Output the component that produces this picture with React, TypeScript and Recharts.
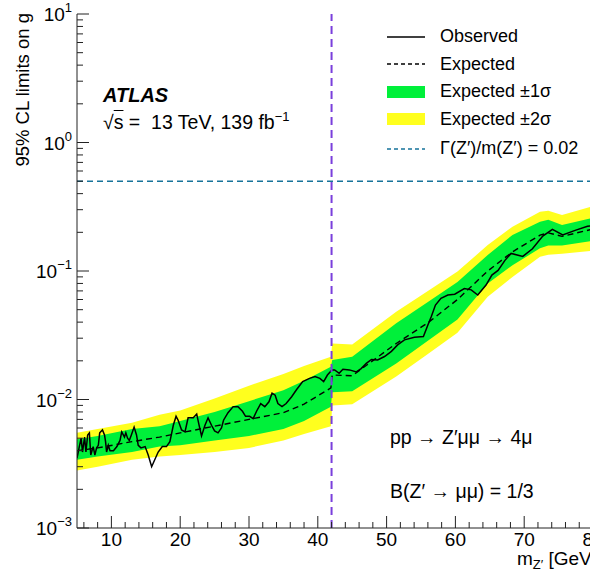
import React from "react";
import { Area, ComposedChart, Line, ReferenceLine, XAxis, YAxis } from "recharts";

const FONT = '"Liberation Sans", Arial, Helvetica, sans-serif';

// Expected limit and its bands, per mass point (GeV)
const bandMass = [5, 8, 13, 17, 20, 25, 30, 35, 38, 41.9, 42.1, 45, 51.4, 56, 60.3, 64.7, 68.3, 72.3, 73.5, 75.5, 80];
const expected = [0.004, 0.0042, 0.0047, 0.0051, 0.0055, 0.0062, 0.007, 0.0079, 0.0092, 0.0123, 0.0155, 0.0153, 0.0273, 0.0395, 0.06, 0.1, 0.141, 0.19, 0.198, 0.186, 0.212];
const minus2 = [0.0028, 0.003, 0.0034, 0.0036, 0.0037, 0.0039, 0.0042, 0.0048, 0.0054, 0.0062, 0.009, 0.0092, 0.0151, 0.0226, 0.033, 0.063, 0.09, 0.129, 0.134, 0.136, 0.144];
const minus1 = [0.0034, 0.0036, 0.0039, 0.0043, 0.0044, 0.0048, 0.0052, 0.0059, 0.0068, 0.0088, 0.0114, 0.0116, 0.0191, 0.0287, 0.042, 0.08, 0.111, 0.15, 0.158, 0.158, 0.172];
const plus1 = [0.0049, 0.0052, 0.0059, 0.0062, 0.0068, 0.008, 0.0097, 0.0118, 0.014, 0.018, 0.0203, 0.0215, 0.0392, 0.0574, 0.082, 0.133, 0.191, 0.242, 0.25, 0.228, 0.26];
const plus2 = [0.0055, 0.0059, 0.0066, 0.0076, 0.0082, 0.0102, 0.0128, 0.0158, 0.0182, 0.0215, 0.0273, 0.0268, 0.0482, 0.07, 0.099, 0.159, 0.221, 0.289, 0.295, 0.273, 0.32];

// Observed limit
const obsMass = [
  5.0, 5.3, 5.6, 5.8, 6.1, 6.3, 6.55, 6.8, 7.0, 7.35, 7.6, 7.85, 8.1, 8.3, 8.7, 9.0, 9.15, 9.3, 9.55, 9.8,
  10.3, 10.8, 11.25, 11.5, 11.9, 12.1, 12.35, 12.6, 12.9, 13.3, 13.65, 13.9, 14.3, 14.9, 15.35, 15.85, 16.3, 16.8, 17.4, 18.0,
  18.5, 19.0, 19.4, 19.7, 20.2, 20.7, 21.15, 21.9, 22.4, 22.75, 23.1, 23.6, 24.05, 24.55, 25.0, 25.5, 26.0, 26.3, 26.95, 27.7,
  28.4, 29.05, 29.5, 30.1, 30.6, 31.1, 31.7, 32.3, 32.9, 33.35, 33.8, 34.2, 34.8, 35.4, 36.2, 36.9, 37.8, 38.8, 39.6, 40.3,
  40.85, 41.4, 42.05, 42.45, 43.1, 43.65, 44.6, 45.6, 46.3, 47.05, 47.8, 48.7, 49.7, 50.7, 51.6, 52.6, 54.05, 55.35, 56.0, 56.5,
  57.1, 57.9, 58.9, 59.9, 61.3, 62.3, 63.25, 64.45, 65.3, 66.2, 67.2, 68.1, 69.8, 71.2, 72.7, 74.1, 75.6, 77.4, 79.2, 80,
];
const observed = [
  0.0035, 0.0042, 0.005, 0.0039, 0.0051, 0.0039, 0.0053, 0.0055, 0.0037, 0.0043, 0.0037, 0.0042, 0.0044, 0.0055, 0.0058, 0.0053, 0.0047, 0.0039, 0.0044, 0.004,
  0.004, 0.0043, 0.0048, 0.0056, 0.0051, 0.0055, 0.005, 0.0048, 0.0053, 0.0061, 0.0053, 0.0044, 0.0042, 0.0043, 0.0037, 0.003, 0.0034, 0.0039, 0.0043, 0.0043,
  0.0047, 0.0063, 0.0074, 0.0069, 0.0058, 0.0056, 0.0072, 0.0072, 0.0077, 0.0063, 0.0052, 0.0063, 0.0072, 0.0063, 0.0057, 0.0055, 0.006, 0.0069, 0.0079, 0.0088,
  0.0088, 0.0081, 0.0074, 0.0074, 0.0071, 0.0081, 0.0093, 0.0088, 0.0096, 0.0112, 0.0108, 0.0093, 0.0088, 0.0093, 0.0105, 0.0119, 0.0138, 0.0146, 0.0151, 0.0146,
  0.0138, 0.0155, 0.017, 0.017, 0.016, 0.0172, 0.017, 0.0164, 0.0174, 0.0191, 0.0205, 0.0203, 0.0216, 0.0237, 0.0266, 0.0291, 0.0305, 0.0309, 0.038, 0.0442,
  0.0543, 0.0613, 0.065, 0.066, 0.073, 0.0713, 0.065, 0.0777, 0.093, 0.101, 0.121, 0.137, 0.13, 0.149, 0.187, 0.211, 0.191, 0.207, 0.223, 0.225,
];

const widthLimit = 0.5; // Gamma(Z')/m(Z') = 0.02
const massCut = 42;

const xMajor = [10, 20, 30, 40, 50, 60, 70, 80];
const xTicks = [6, 8, 10, 12, 14, 16, 18, 20, 22, 24, 26, 28, 30, 32, 34, 36, 38, 40, 42, 44, 46, 48, 50, 52, 54, 56, 58, 60, 62, 64, 66, 68, 70, 72, 74, 76, 78, 80];
const yMajor = [0.001, 0.01, 0.1, 1, 10];
const yTicks = [
  0.001, 0.002, 0.003, 0.004, 0.005, 0.006, 0.007, 0.008, 0.009,
  0.01, 0.02, 0.03, 0.04, 0.05, 0.06, 0.07, 0.08, 0.09,
  0.1, 0.2, 0.3, 0.4, 0.5, 0.6, 0.7, 0.8, 0.9,
  1, 2, 3, 4, 5, 6, 7, 8, 9, 10,
];

const GREEN = "#00f03a";
const YELLOW = "#ffff1e";
const TEAL = "#16739a";
const PURPLE = "#7a3fdc";
const AXIS = "#222";

const bandData = bandMass.map((m, i) => ({
  m,
  exp: expected[i],
  s1: [minus1[i], plus1[i]],
  s2: [minus2[i], plus2[i]],
}));
const obsData = obsMass.map((m, i) => ({ m, obs: observed[i] }));

const isMajorX = (v: number) => xMajor.includes(v);
const isMajorY = (v: number) => yMajor.some((t) => Math.abs(t - v) < 1e-9);

function BottomTick({ x, y, payload }: any) {
  const major = isMajorX(payload.value);
  return (
    <g>
      <line x1={x} x2={x} y1={y} y2={y - (major ? 12 : 6)} stroke={AXIS} />
      {major && (
        <text x={x} y={y + 18} textAnchor="middle" fontSize={19} fontFamily={FONT} fill="#000">
          {payload.value}
        </text>
      )}
    </g>
  );
}

function TopTick({ x, y, payload }: any) {
  const major = isMajorX(payload.value);
  return <line x1={x} x2={x} y1={y} y2={y + (major ? 12 : 6)} stroke={AXIS} />;
}

function LeftTick({ x, y, payload }: any) {
  const v = payload.value;
  const major = isMajorY(v);
  const p = Math.round(Math.log10(v));
  return (
    <g>
      <line x1={x} x2={x + (major ? 12 : 6)} y1={y} y2={y} stroke={AXIS} />
      {major && (
        <text x={x - 5} y={y + 7} textAnchor="end" fontSize={19} fontFamily={FONT} fill="#000">
          10
          <tspan dy={-9} fontSize={13}>
            {p < 0 ? "\u2212" + Math.abs(p) : String(p)}
          </tspan>
        </text>
      )}
    </g>
  );
}

const legendRows = [
  { label: "Observed", kind: "solid" },
  { label: "Expected", kind: "dash" },
  { label: "Expected \u00b11\u03c3", kind: "green" },
  { label: "Expected \u00b12\u03c3", kind: "yellow" },
  { label: "\u0393(Z\u2032)/m(Z\u2032) = 0.02", kind: "teal" },
];

function LegendBox() {
  return (
    <div style={{ position: "absolute", left: 386, top: 23, fontFamily: FONT, fontSize: 18 }}>
      {legendRows.map((r, i) => (
        <div key={r.label} style={{ display: "flex", alignItems: "center", height: i === 4 ? 31 : 27.5 }}>
          <svg width={40} height={14} style={{ marginRight: 14 }}>
            {r.kind === "solid" && <line x1={1} x2={39} y1={7} y2={7} stroke="#000" strokeWidth={1.5} />}
            {r.kind === "dash" && <line x1={1} x2={39} y1={7} y2={7} stroke="#000" strokeWidth={1.3} strokeDasharray="4 3" />}
            {r.kind === "green" && <rect x={1} y={1} width={38} height={12} fill={GREEN} />}
            {r.kind === "yellow" && <rect x={1} y={1} width={38} height={12} fill={YELLOW} />}
            {r.kind === "teal" && <line x1={1} x2={39} y1={7} y2={7} stroke={TEAL} strokeWidth={1.3} strokeDasharray="4 3" />}
          </svg>
          <span>{r.label}</span>
        </div>
      ))}
    </div>
  );
}

export default function App() {
  return (
    <div style={{ position: "absolute", left: 0, top: 0, width: 590, height: 571, overflow: "hidden", background: "#fff" }}>
      <ComposedChart width={620} height={571} margin={{ top: 14, right: 27, bottom: 0, left: 0 }}>
        <XAxis
          dataKey="m"
          type="number"
          domain={[5, 80]}
          allowDataOverflow
          ticks={xTicks}
          interval={0}
          tickSize={0}
          tickMargin={0}
          tick={<BottomTick />}
          tickLine={false}
          axisLine={{ stroke: AXIS }}
          height={43}
        />
        <XAxis
          xAxisId="top"
          orientation="top"
          type="number"
          domain={[5, 80]}
          allowDataOverflow
          ticks={xTicks}
          interval={0}
          tickSize={0}
          tickMargin={0}
          tick={<TopTick />}
          tickLine={false}
          axisLine={{ stroke: AXIS }}
          height={0}
        />
        <YAxis
          type="number"
          scale="log"
          domain={[0.001, 10]}
          allowDataOverflow
          ticks={yTicks}
          interval={0}
          tickSize={0}
          tickMargin={0}
          tick={<LeftTick />}
          tickLine={false}
          axisLine={{ stroke: AXIS }}
          width={77}
        />
        <Area data={bandData} dataKey="s2" type="linear" stroke="none" fill={YELLOW} fillOpacity={1} isAnimationActive={false} />
        <Area data={bandData} dataKey="s1" type="linear" stroke="none" fill={GREEN} fillOpacity={1} isAnimationActive={false} />
        <Line data={bandData} dataKey="exp" type="linear" stroke="#000" strokeWidth={1.4} strokeDasharray="6 4" dot={false} isAnimationActive={false} />
        <Line data={obsData} dataKey="obs" type="linear" stroke="#000" strokeWidth={1.5} dot={false} isAnimationActive={false} />
        <ReferenceLine y={widthLimit} stroke={TEAL} strokeWidth={1.4} strokeDasharray="6 4" />
        <ReferenceLine x={massCut} stroke={PURPLE} strokeWidth={2} strokeDasharray="8 5" />
      </ComposedChart>

      <svg width={590} height={571} style={{ position: "absolute", left: 0, top: 0, pointerEvents: "none" }}>
        <text transform="translate(29, 13) rotate(-90)" textAnchor="end" fontSize={18.5} fontFamily={FONT} fill="#000">
          95% CL limits on g
        </text>
        <text x={517} y={565} fontSize={19} fontFamily={FONT} fill="#000">
          m<tspan dy={4} fontSize={13}>Z{"\u2032"}</tspan>
          <tspan dy={-4}> [GeV]</tspan>
        </text>
      </svg>

      <LegendBox />

      <div style={{ position: "absolute", left: 103, top: 85, fontFamily: FONT, color: "#000", lineHeight: "21px" }}>
        <div style={{ fontSize: 20, fontWeight: "bold", fontStyle: "italic" }}>ATLAS</div>
        <div style={{ fontSize: 19.5, whiteSpace: "pre" }}>
          {"\u221a"}
          <span style={{ textDecoration: "overline" }}>s</span>
          {" =  13 TeV, 139 fb"}
          <sup style={{ fontSize: 13 }}>{"\u22121"}</sup>
        </div>
      </div>

      <div style={{ position: "absolute", left: 390, top: 426, fontFamily: FONT, fontSize: 19.5, color: "#000", whiteSpace: "pre" }}>
        {"pp \u2192 Z\u2032\u03bc\u03bc \u2192 4\u03bc"}
      </div>
      <div style={{ position: "absolute", left: 390, top: 480, fontFamily: FONT, fontSize: 19.5, color: "#000", whiteSpace: "pre" }}>
        {"B(Z\u2032 \u2192 \u03bc\u03bc) = 1/3"}
      </div>
    </div>
  );
}
